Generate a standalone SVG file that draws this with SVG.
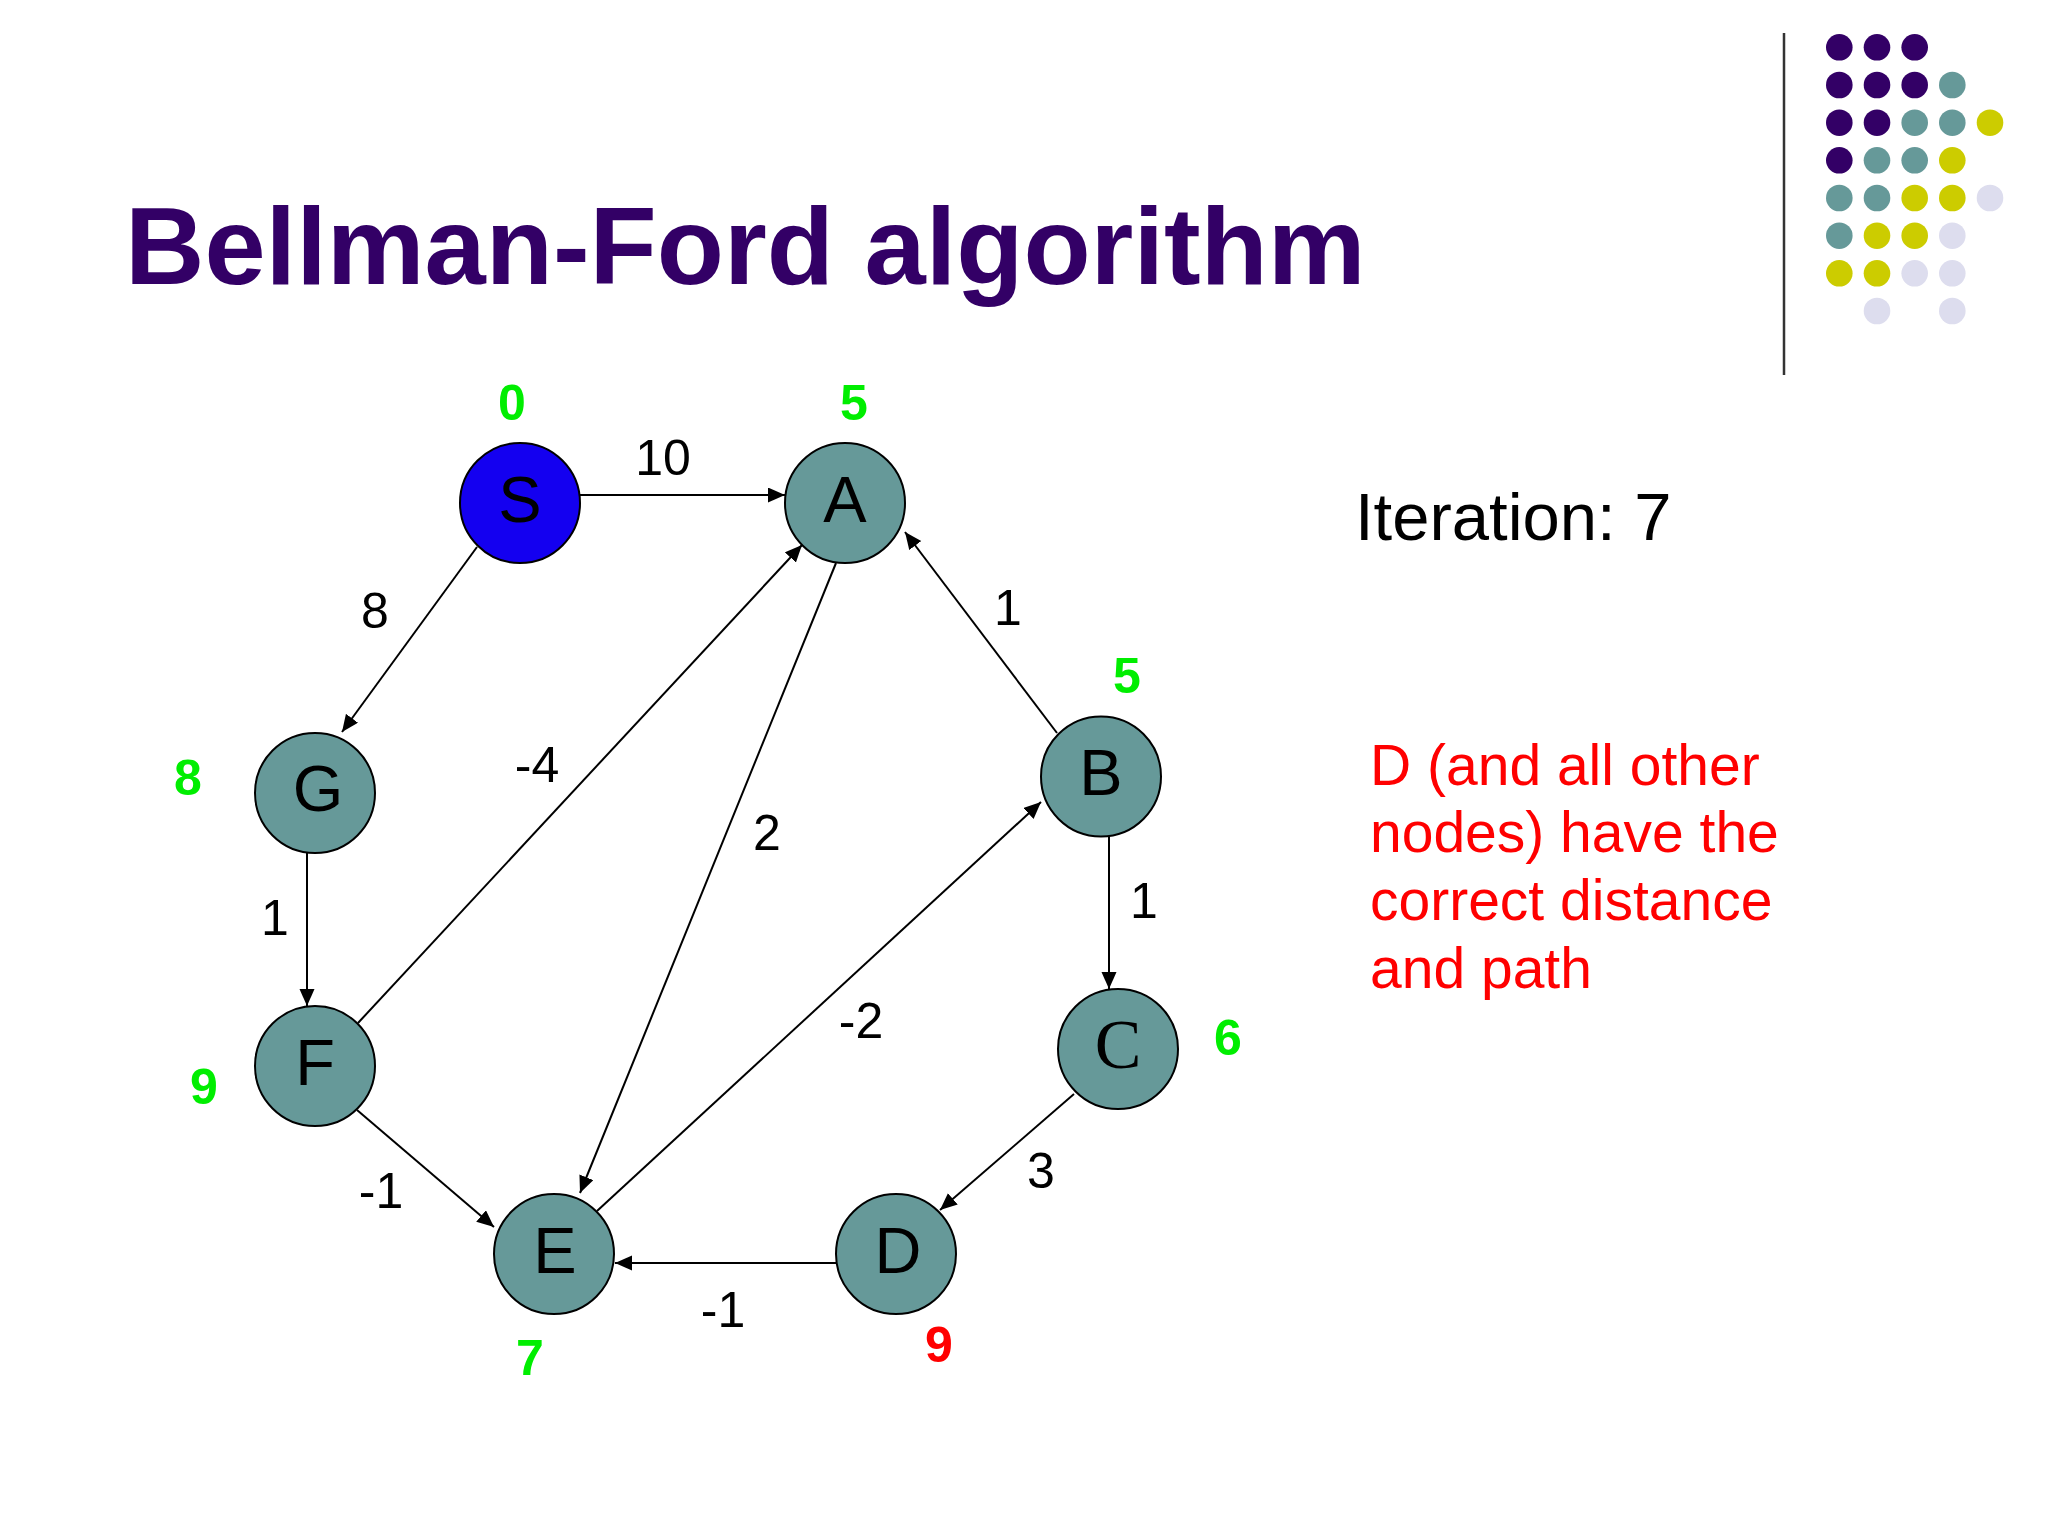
<svg xmlns="http://www.w3.org/2000/svg" width="2048" height="1536" viewBox="0 0 2048 1536">
<style>
.node{fill:#669999;stroke:#000;stroke-width:2}
.src{fill:#1400F0;stroke:#000;stroke-width:2}
.lbl{font-family:"Liberation Sans",Arial,sans-serif;font-size:65px;fill:#000;text-anchor:middle}
.serif{font-family:"Liberation Serif","Times New Roman",serif;font-size:70px}
.dist{font-family:"Liberation Sans",Arial,sans-serif;font-size:50px;font-weight:bold;fill:#00EE00;text-anchor:middle}
.bad{fill:#FF0000}
.w{font-family:"Liberation Sans",Arial,sans-serif;font-size:50px;fill:#000;text-anchor:middle}
.edge{stroke:#000;stroke-width:2;fill:none;marker-end:url(#arr)}
.p{fill:#330066}.t{fill:#669999}.y{fill:#CCCC00}.l{fill:#DDDDEE}
</style>
<defs>
<marker id="arr" markerUnits="userSpaceOnUse" markerWidth="18" markerHeight="16" refX="17" refY="7.5" orient="auto">
<path d="M0,0 L17,7.5 L0,15 Z" fill="#000"/>
</marker>
</defs>
<rect width="2048" height="1536" fill="#fff"/>
<text x="125" y="284" font-family="'Liberation Sans',Arial,sans-serif" font-size="110" font-weight="bold" fill="#330066">Bellman-Ford algorithm</text>
<line x1="1784" y1="33" x2="1784" y2="375" stroke="#333" stroke-width="2.5"/>
<g id="dots">
<circle class="p" cx="1839.3" cy="47.3" r="13.3"/><circle class="p" cx="1877" cy="47.3" r="13.3"/><circle class="p" cx="1914.7" cy="47.3" r="13.3"/>
<circle class="p" cx="1839.3" cy="85" r="13.3"/><circle class="p" cx="1877" cy="85" r="13.3"/><circle class="p" cx="1914.7" cy="85" r="13.3"/><circle class="t" cx="1952.3" cy="85" r="13.3"/>
<circle class="p" cx="1839.3" cy="122.7" r="13.3"/><circle class="p" cx="1877" cy="122.7" r="13.3"/><circle class="t" cx="1914.7" cy="122.7" r="13.3"/><circle class="t" cx="1952.3" cy="122.7" r="13.3"/><circle class="y" cx="1990" cy="122.7" r="13.3"/>
<circle class="p" cx="1839.3" cy="160.3" r="13.3"/><circle class="t" cx="1877" cy="160.3" r="13.3"/><circle class="t" cx="1914.7" cy="160.3" r="13.3"/><circle class="y" cx="1952.3" cy="160.3" r="13.3"/>
<circle class="t" cx="1839.3" cy="198" r="13.3"/><circle class="t" cx="1877" cy="198" r="13.3"/><circle class="y" cx="1914.7" cy="198" r="13.3"/><circle class="y" cx="1952.3" cy="198" r="13.3"/><circle class="l" cx="1990" cy="198" r="13.3"/>
<circle class="t" cx="1839.3" cy="235.7" r="13.3"/><circle class="y" cx="1877" cy="235.7" r="13.3"/><circle class="y" cx="1914.7" cy="235.7" r="13.3"/><circle class="l" cx="1952.3" cy="235.7" r="13.3"/>
<circle class="y" cx="1839.3" cy="273.3" r="13.3"/><circle class="y" cx="1877" cy="273.3" r="13.3"/><circle class="l" cx="1914.7" cy="273.3" r="13.3"/><circle class="l" cx="1952.3" cy="273.3" r="13.3"/>
<circle class="l" cx="1877" cy="311" r="13.3"/><circle class="l" cx="1952.3" cy="311" r="13.3"/>
</g>
<g id="connectors">
<line class="edge" x1="580" y1="495" x2="785" y2="495"/>
<line class="edge" x1="477" y1="547" x2="342" y2="732"/>
<line class="edge" x1="307" y1="853" x2="307" y2="1006"/>
<line class="edge" x1="358" y1="1023" x2="802" y2="545"/>
<line class="edge" x1="836" y1="563" x2="580" y2="1193"/>
<line class="edge" x1="1057" y1="733" x2="905" y2="532"/>
<line class="edge" x1="1109" y1="836" x2="1109" y2="989"/>
<line class="edge" x1="1074" y1="1094" x2="940" y2="1210"/>
<line class="edge" x1="836" y1="1263" x2="615" y2="1263"/>
<line class="edge" x1="597" y1="1211" x2="1041" y2="802"/>
<line class="edge" x1="357" y1="1110" x2="494" y2="1227"/>
<text class="w" x="663" y="475">10</text>
<text class="w" x="375" y="628">8</text>
<text class="w" x="1008" y="625">1</text>
<text class="w" x="537" y="782">-4</text>
<text class="w" x="767" y="850">2</text>
<text class="w" x="275" y="935">1</text>
<text class="w" x="1144" y="918">1</text>
<text class="w" x="861" y="1038">-2</text>
<text class="w" x="1041" y="1188">3</text>
<text class="w" x="381" y="1208">-1</text>
<text class="w" x="723" y="1327">-1</text>
</g>
<g id="S"><circle class="src" cx="520" cy="503" r="60"/><text class="lbl" x="520" y="522">S</text><text class="dist" x="512" y="420">0</text></g>
<g id="A"><circle class="node" cx="845" cy="503" r="60"/><text class="lbl" x="845" y="522">A</text><text class="dist" x="854" y="420">5</text></g>
<g id="G"><circle class="node" cx="315" cy="793" r="60"/><text class="lbl" x="318" y="811">G</text><text class="dist" x="188" y="795">8</text></g>
<g id="F"><circle class="node" cx="315" cy="1066" r="60"/><text class="lbl" x="315" y="1085">F</text><text class="dist" x="204" y="1104">9</text></g>
<g id="B"><circle class="node" cx="1101" cy="776.5" r="60"/><text class="lbl" x="1101" y="795">B</text><text class="dist" x="1127" y="693">5</text></g>
<g id="C"><circle class="node" cx="1118" cy="1049" r="60"/><text class="lbl serif" x="1118" y="1068">C</text><text class="dist" x="1228" y="1055">6</text></g>
<g id="D"><circle class="node" cx="896" cy="1254" r="60"/><text class="lbl" x="898" y="1273">D</text><text class="dist bad" x="939" y="1362">9</text></g>
<g id="E"><circle class="node" cx="554" cy="1254" r="60"/><text class="lbl" x="555" y="1273">E</text><text class="dist" x="530" y="1375">7</text></g>
<text x="1355" y="540" font-family="'Liberation Sans',Arial,sans-serif" font-size="67" fill="#000">Iteration: 7</text>
<g font-family="'Liberation Sans',Arial,sans-serif" font-size="57" fill="#FF0000">
<text x="1370" y="785">D (and all other</text>
<text x="1370" y="852">nodes) have the</text>
<text x="1370" y="920">correct distance</text>
<text x="1370" y="988">and path</text>
</g>
</svg>
